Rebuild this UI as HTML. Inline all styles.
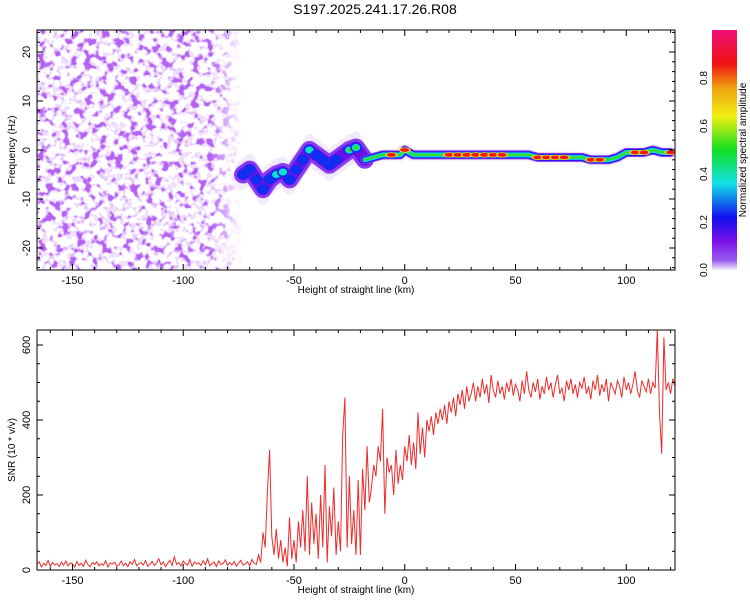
<!DOCTYPE html>
<html><head><meta charset="utf-8"><style>
body{margin:0;background:#fff;width:750px;height:600px;overflow:hidden;font-family:"Liberation Sans",sans-serif}
text{font-family:"Liberation Sans",sans-serif;fill:#000}
</style></head><body>
<svg id="svg" width="750" height="600" xmlns="http://www.w3.org/2000/svg">
<defs>
<filter id="noise" x="0" y="0" width="100%" height="100%">
<feTurbulence type="fractalNoise" baseFrequency="0.13" numOctaves="2" seed="7"/>
<feColorMatrix type="matrix" values="0 0 0 0 0.45  0 0 0 0 0.12  0 0 0 0 0.9  3.4 0 0 0 -1.35"/>
<feComponentTransfer><feFuncA type="discrete" tableValues="0 0 0.2 0.2 0.4 0.8 1"/></feComponentTransfer>
</filter>
<linearGradient id="cbar" x1="0" y1="1" x2="0" y2="0">
<stop offset="0" stop-color="#f4effc"/><stop offset="0.04" stop-color="#9a5cf0"/>
<stop offset="0.12" stop-color="#7a10e8"/><stop offset="0.22" stop-color="#1010f0"/>
<stop offset="0.36" stop-color="#10e0e8"/><stop offset="0.5" stop-color="#10e020"/>
<stop offset="0.64" stop-color="#f0f010"/><stop offset="0.76" stop-color="#f0a010"/>
<stop offset="0.86" stop-color="#f01010"/><stop offset="1" stop-color="#f0107a"/>
</linearGradient>
<clipPath id="clipTop"><rect x="37" y="30" width="638" height="240"/></clipPath>
<clipPath id="clipBot"><rect x="37" y="330" width="638" height="240"/></clipPath>
<linearGradient id="fade" x1="0" x2="1"><stop offset="0.85" stop-color="#fff"/><stop offset="1" stop-color="#000"/></linearGradient>
<mask id="noiseMask"><rect x="37" y="30" width="205" height="240" fill="url(#fade)"/></mask>
</defs>
<text x="375" y="14" font-size="14" text-anchor="middle">S197.2025.241.17.26.R08</text>
<g id="top"></g>
<g id="bot"></g>
<g id="cb"></g>
</svg>
<script>
// ridge of the spectrogram: height (km), frequency (Hz), normalized amplitude
const ridgeHeights=[-73,-70,-67,-64,-61,-58,-55,-52,-49,-46,-43,-40,-37,-34,-31,-28,-25,-22,-18,-14,-10,-6,-2,0,4,8,12,16,20,24,28,32,36,40,44,48,52,56,60,64,68,72,76,80,84,88,92,96,100,104,108,112,116,120];
const ridgeFreqs=[-5,-4,-6,-8,-6,-5,-4.5,-6,-4,-2,0,-1,-2,-3,-2,-1,0,0.5,-2,-1.5,-1,-1,-1,0,-1,-1,-1,-1,-1,-1,-1,-1,-1,-1,-1,-1,-1,-1,-1.5,-1.5,-1.5,-1.5,-1.5,-1.5,-2,-2,-2,-1.5,-0.5,-0.5,-0.5,0,-0.5,-0.5];
const ridgeAmps=[0.22,0.25,0.3,0.35,0.3,0.4,0.42,0.25,0.3,0.28,0.45,0.3,0.32,0.3,0.35,0.2,0.7,0.6,0.5,0.55,0.8,0.85,0.8,0.88,0.75,0.7,0.75,0.8,0.85,0.9,0.9,0.9,0.9,0.9,0.85,0.7,0.75,0.7,0.9,0.9,0.9,0.9,0.75,0.8,0.9,0.85,0.6,0.6,0.7,0.9,0.85,0.7,0.8,0.9];
const xTicks=[-150,-100,-50,0,50,100];
const fTicks=[-20,-10,0,10,20];
const snrTicks=[0,200,400,600];
const cbTicks=[0.0,0.2,0.4,0.6,0.8];
const snrStart=-166;
const snrValues=[15,22,8,18,12,25,10,20,14,17,9,21,13,24,11,19,16,8,23,12,18,10,26,14,9,20,15,22,11,17,13,25,8,19,16,21,10,14,24,12,18,9,22,15,28,11,17,20,13,25,10,16,23,12,19,30,14,21,9,18,26,12,35,15,20,11,24,17,13,28,10,22,16,19,12,25,14,30,11,18,21,9,24,15,17,27,12,20,14,23,10,19,26,13,16,22,11,28,18,15,40,
20,100,60,210,320,90,40,110,30,80,20,60,10,140,30,80,20,130,60,160,50,250,40,180,70,150,30,200,60,280,20,170,90,220,40,130,50,360,460,60,250,70,160,40,240,40,270,160,330,180,220,280,250,330,290,430,150,300,260,280,200,320,230,280,240,330,290,360,280,340,270,420,310,380,300,400,370,410,360,420,390,430,400,440,390,450,420,460,410,470,440,480,430,490,450,
470,500,450,490,460,510,470,495,445,520,480,460,505,470,490,455,500,475,510,465,495,480,450,505,470,530,480,460,500,475,510,455,490,470,515,480,500,460,495,520,470,485,450,505,480,510,470,495,460,500,485,515,470,490,455,505,480,520,465,495,475,510,450,500,485,470,505,490,460,515,480,500,470,495,530,480,460,505,490,475,510,470,500,485,640,420,310,620,480,500,470,510,490,505,480,515];

const NS="http://www.w3.org/2000/svg";
function mk(tag,attrs,parent){const e=document.createElementNS(NS,tag);for(const k in attrs)e.setAttribute(k,attrs[k]);parent.appendChild(e);return e;}
const X0=37,X1=675,xMin=-166,xMax=122;
const xs=v=>X0+(v-xMin)/(xMax-xMin)*(X1-X0);
const fy=v=>150-(v)*4.9;
const sy=v=>570-v*0.375;
const cy=v=>270-v*240;
function ampColor(a){const st=[[0,[244,239,252]],[0.04,[154,92,240]],[0.12,[122,16,232]],[0.22,[16,16,240]],[0.36,[16,224,232]],[0.5,[16,224,32]],[0.64,[240,240,16]],[0.76,[240,160,16]],[0.86,[240,16,16]],[1,[240,16,122]]];
 for(let i=1;i<st.length;i++){if(a<=st[i][0]){const t=(a-st[i-1][0])/(st[i][0]-st[i-1][0]);const c=st[i-1][1].map((v,j)=>Math.round(v+(st[i][1][j]-v)*t));return `rgb(${c})`;}}return 'rgb(240,16,122)';}

function frame(g,y0,y1,yfun,majors,minorStep,yMinV,yMaxV,name){
  const r=mk('rect',{x:X0,y:y0,width:X1-X0,height:y1-y0,fill:'none',stroke:'#000','stroke-width':1},g);
  
  
  for(let v=-160;v<=120;v+=10){const x=xs(v);const L=v%50===0?6:3;
    mk('line',{x1:x,y1:y1,x2:x,y2:y1-L,stroke:'#000'},g);mk('line',{x1:x,y1:y0,x2:x,y2:y0+L,stroke:'#000'},g);}
  for(const v of xTicks){const t=mk('text',{x:xs(v),y:y1+14,'font-size':11,'text-anchor':'middle'},g);t.textContent=v;
    
    }
  for(let v=Math.ceil(yMinV/minorStep)*minorStep;v<=yMaxV;v+=minorStep){const y=yfun(v);const L=majors.includes(v)?6:3;
    mk('line',{x1:X0,y1:y,x2:X0+L,y2:y,stroke:'#000'},g);mk('line',{x1:X1,y1:y,x2:X1-L,y2:y,stroke:'#000'},g);}
  for(const v of majors){const y=yfun(v);const t=mk('text',{x:0,y:0,'font-size':11,'text-anchor':'middle',transform:`translate(30,${y}) rotate(-90)`},g);t.textContent=v;
    
    }
  const xt=mk('text',{x:356,y:y1+23,'font-size':10,'text-anchor':'middle'},g);xt.textContent='Height of straight line (km)';
  
  
}
// top panel
const topG=document.getElementById('top');
const hm=mk('g',{'clip-path':'url(#clipTop)'},topG);


const nz=mk('rect',{x:37,y:30,width:205,height:240,filter:'url(#noise)',mask:'url(#noiseMask)'},hm);


for(let i=0;i<ridgeHeights.length;i++){const e=mk('ellipse',{cx:xs(ridgeHeights[i]),cy:fy(ridgeFreqs[i]),rx:8,ry:ridgeHeights[i]<-20?16:6,fill:'#ebe2f9','fill-opacity':0.7},hm);
  
  }
const layers=[[18,'#8a3cf0',-999,-18],[12,'#6a10e8',-999,-18],[9,'#8a3cf0',-20,999],[7,'#2010f0',-20,999],[5,'#10d0e8',-20,999],[2.5,'#30e030',-20,999]];
for(const [w,c,lo,hi] of layers){
  const pts=ridgeHeights.map((h,i)=>[h,i]).filter(([h,i])=>h>=lo&&h<=hi);
  const pl=mk('polyline',{points:pts.map(([h,i])=>`${xs(h)},${fy(ridgeFreqs[i])}`).join(' '),fill:'none',stroke:c,'stroke-width':w,'stroke-linejoin':'round','stroke-linecap':'round'},hm);
  
  
}
for(let i=0;i<ridgeHeights.length;i++){const a=ridgeAmps[i];const x=xs(ridgeHeights[i]),y=fy(ridgeFreqs[i]);
  const early=ridgeHeights[i]<-20;
  if(early){
    const steps=[0.22,0.36,0.5].filter(s=>s<=a);
    steps.forEach((s,k)=>{const e=mk('ellipse',{cx:x,cy:y,rx:6-k*1.8,ry:5-k*1.5,fill:ampColor(s+0.02)},hm);
      
      });
  } else {
    const cols=[];
    if(a>=0.85)cols.push('#f0e010');
    if(a>=0.85)cols.push('#f01818');
    cols.forEach((c,k)=>{const e=mk('ellipse',{cx:x,cy:y,rx:6-k*1.5,ry:2.6-k*0.7,fill:c},hm);
      
      });
  }
}
frame(topG,30,270,fy,fTicks,2,-24,24,'top');
const ft=mk('text',{x:0,y:0,'font-size':10,'text-anchor':'middle',transform:'translate(15,150) rotate(-90)'},topG);ft.textContent='Frequency (Hz)';



// bottom panel
const botG=document.getElementById('bot');
const snrPts=snrValues.map((v,i)=>`${xs(snrStart+i).toFixed(1)},${sy(v).toFixed(1)}`).join(' ');
const gl=mk('g',{'clip-path':'url(#clipBot)'},botG);
const line=mk('polyline',{points:snrPts,fill:'none',stroke:'#ee2b2b','stroke-width':1},gl);


frame(botG,330,570,sy,snrTicks,50,0,640,'bottom');
const st=mk('text',{x:0,y:0,'font-size':10,'text-anchor':'middle',transform:'translate(15,450) rotate(-90)'},botG);st.textContent='SNR (10 * v/v)';



// colorbar
const cbG=document.getElementById('cb');
const cr=mk('rect',{x:712,y:30,width:25,height:240,fill:'url(#cbar)'},cbG);


for(const v of cbTicks){const t=mk('text',{x:0,y:0,'font-size':10,'text-anchor':'middle',transform:`translate(707,${cy(v)}) rotate(-90)`},cbG);t.textContent=v.toFixed(1);
  
  }
const ct=mk('text',{x:0,y:0,'font-size':10,'text-anchor':'middle',transform:'translate(746,150) rotate(-90)'},cbG);ct.textContent='Normalized spectral amplitude';


</script>
</body></html>
